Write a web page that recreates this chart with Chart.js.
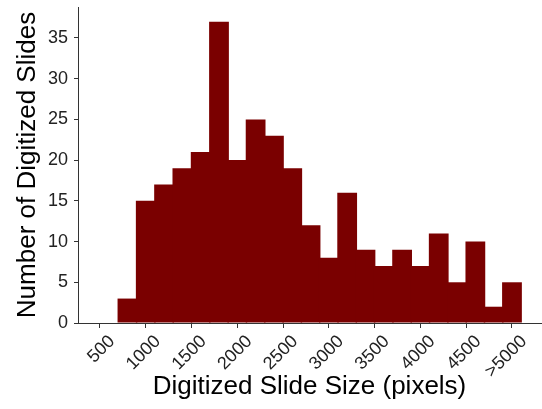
<!DOCTYPE html>
<html>
<head>
<meta charset="utf-8">
<script src="https://cdn.jsdelivr.net/npm/chart.js@4/dist/chart.umd.min.js"></script>
<style>
  html, body { margin: 0; padding: 0; background: #ffffff; }
  #wrap { width: 542px; height: 409px; }
</style>
</head>
<body>
<div id="wrap"><canvas id="c" width="542" height="409"></canvas></div>
<script>
// Histogram bin centres (pixels) and counts
const binCenters = [800, 1000, 1200, 1400, 1600, 1800, 2000, 2200, 2400, 2600, 2800,
                    3000, 3200, 3400, 3600, 3800, 4000, 4200, 4400, 4600, 4800, 5000];
const counts = [3, 15, 17, 19, 21, 37, 20, 25, 23, 19, 12,
                8, 16, 9, 7, 9, 7, 11, 5, 10, 2, 5];
const xTickValues = [500, 1000, 1500, 2000, 2500, 3000, 3500, 4000, 4500, 5000];
const xTickLabels = ['500', '1000', '1500', '2000', '2500', '3000', '3500', '4000', '4500', '>5000'];
const yTickValues = [0, 5, 10, 15, 20, 25, 30, 35];

const FONT = '"Liberation Sans", Arial, Helvetica, sans-serif';

const points = binCenters.map((x, i) => ({ x: x, y: counts[i] }));

new Chart(document.getElementById('c'), {
  type: 'bar',
  data: {
    datasets: [{
      data: points,
      backgroundColor: '#7a0000',
      borderWidth: 0,
      barPercentage: 1.08,
      categoryPercentage: 1.0
    }]
  },
  options: {
    responsive: false,
    animation: false,
    devicePixelRatio: 1,
    layout: { padding: { top: 7, right: 1, left: 0, bottom: 0 } },
    plugins: { legend: { display: false }, tooltip: { enabled: false } },
    scales: {
      x: {
        type: 'linear',
        offset: false,
        min: 260,
        max: 5317,
        afterBuildTicks: (s) => { s.ticks = xTickValues.map(v => ({ value: v })); },
        afterFit: (s) => { s.height = 86; s.paddingLeft = 0; s.paddingRight = 0; },
        grid: { display: true, drawOnChartArea: false, drawTicks: true, tickLength: 5, color: '#333333', offset: false },
        border: { display: true, color: '#333333', width: 1 },
        ticks: {
          minRotation: 45,
          maxRotation: 45,
          padding: 3,
          labelOffset: 12,
          color: '#222222',
          font: { family: FONT, size: 18 },
          autoSkip: false,
          callback: (v) => { const i = xTickValues.indexOf(v); return i >= 0 ? xTickLabels[i] : ''; }
        },
        title: {
          display: true,
          text: 'Digitized Slide Size (pixels)',
          color: '#000000',
          font: { family: FONT, size: 26 },
          padding: { top: 0, bottom: 7 }
        }
      },
      y: {
        min: 0,
        max: 38.8,
        afterBuildTicks: (s) => { s.ticks = yTickValues.map(v => ({ value: v })); },
        afterFit: (s) => { s.width = 78; s.paddingTop = 0; s.paddingBottom = 0; },
        grid: { display: true, drawOnChartArea: false, drawTicks: true, tickLength: 4, color: '#333333' },
        border: { display: true, color: '#333333', width: 1 },
        ticks: {
          padding: 6,
          color: '#222222',
          font: { family: FONT, size: 18 }
        },
        title: {
          display: true,
          text: 'Number of Digitized Slides',
          color: '#000000',
          font: { family: FONT, size: 26 },
          padding: { top: 12, bottom: 0 }
        }
      }
    }
  }
});
</script>
</body>
</html>
